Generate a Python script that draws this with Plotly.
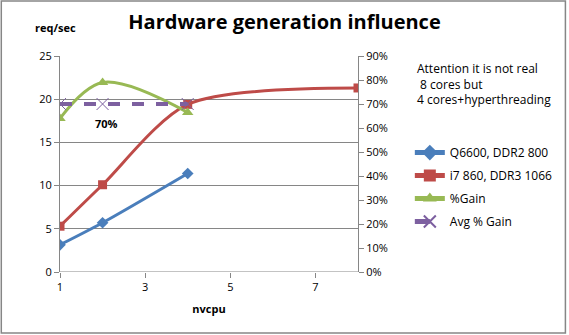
import plotly.graph_objects as go

x_q = [1, 2, 4]
q6600 = [3.15, 5.7, 11.4]
x_i7 = [1, 2, 4, 8]
i7 = [5.3, 10.1, 19.4, 21.3]
x_gain = [1, 2, 4]
gain = [0.64, 0.79, 0.665]
x_avg = [1, 2, 4]
avg_gain = [0.70, 0.70, 0.70]
avg_label_index = 1

FONT = "Open Sans"
grid = "#868686"

fig = go.Figure()
fig.add_trace(go.Scatter(x=x_q, y=q6600, name="Q6600, DDR2 800", mode="lines+markers", legendgroup="a",
                         line=dict(color="#4a7ebb", width=3, shape="spline", smoothing=0.8),
                         marker=dict(symbol="diamond", size=9, color="#4a7ebb")))
fig.add_trace(go.Scatter(x=x_i7, y=i7, name="i7 860, DDR3 1066", mode="lines+markers", legendgroup="b",
                         line=dict(color="#be4b48", width=3, shape="spline", smoothing=0.8),
                         marker=dict(symbol="square", size=9, color="#be4b48")))
fig.add_trace(go.Scatter(x=x_gain, y=gain, name="%Gain", mode="lines+markers", yaxis="y2", legendgroup="c",
                         line=dict(color="#98b954", width=3, shape="spline", smoothing=1),
                         marker=dict(symbol="triangle-up", size=10, color="#98b954")))
fig.add_trace(go.Scatter(x=x_avg, y=avg_gain, name="Avg % Gain", mode="lines+markers", yaxis="y2", legendgroup="d",
                         line=dict(color="#7d60a0", width=4, dash="dash"),
                         marker=dict(symbol="x-thin", size=12, line=dict(color="#7d60a0", width=1))))

fig.update_layout(
    width=569, height=335,
    margin=dict(l=60, r=210, t=56, b=63),
    paper_bgcolor="white", plot_bgcolor="white",
    font=dict(family=FONT, size=11, color="black"),
    title=dict(text="<b>Hardware generation influence</b>", x=0.5, xanchor="center",
               y=0.935, yanchor="middle", font=dict(family=FONT, size=20, color="black")),
    xaxis=dict(range=[1, 8], tickvals=[1, 3, 5, 7], showgrid=False, zeroline=False,
               ticks="outside", ticklen=5, tickcolor=grid, showline=False,
               title=dict(text="<b>nvcpu</b>", font=dict(size=11), standoff=12)),
    yaxis=dict(range=[0, 25], dtick=5, showgrid=True, gridcolor=grid, zeroline=False,
               showline=True, linecolor=grid, ticks="outside", ticklen=5, tickcolor=grid),
    yaxis2=dict(range=[0, 0.9], dtick=0.1, tickformat=".0%", overlaying="y", side="right",
                showgrid=False, zeroline=False, showline=True, linecolor=grid,
                ticks="outside", ticklen=5, tickcolor=grid),
    legend=dict(x=1.17, y=0.62, xanchor="left", yanchor="top", font=dict(size=12),
                itemsizing="constant", tracegroupgap=4),
    showlegend=True,
)
fig.add_shape(type="line", xref="x", yref="y", x0=1, x1=8, y0=0, y1=0,
              line=dict(color=grid, width=1))
fig.add_annotation(text="<b>%.0f%%</b>" % (avg_gain[avg_label_index] * 100),
                   xref="x", yref="y2", x=x_avg[avg_label_index], y=avg_gain[avg_label_index],
                   yshift=-19, xshift=4, showarrow=False, font=dict(size=11))
fig.add_annotation(text="<b>req/sec</b>", xref="paper", yref="paper", x=-0.09, y=1.13,
                   xanchor="left", yanchor="middle", showarrow=False, font=dict(size=11))
fig.add_annotation(text="Attention it is not real<br> 8 cores but<br>4 cores+hyperthreading",
                   xref="paper", yref="paper", x=1.19, y=0.99, xanchor="left", yanchor="top",
                   align="left", showarrow=False, font=dict(size=12))
fig.add_shape(type="rect", xref="paper", yref="paper", x0=-0.197, x1=1.696, y0=-0.282, y1=1.255,
              line=dict(color=grid, width=1.5), layer="below")
fig.write_html("out.html")
